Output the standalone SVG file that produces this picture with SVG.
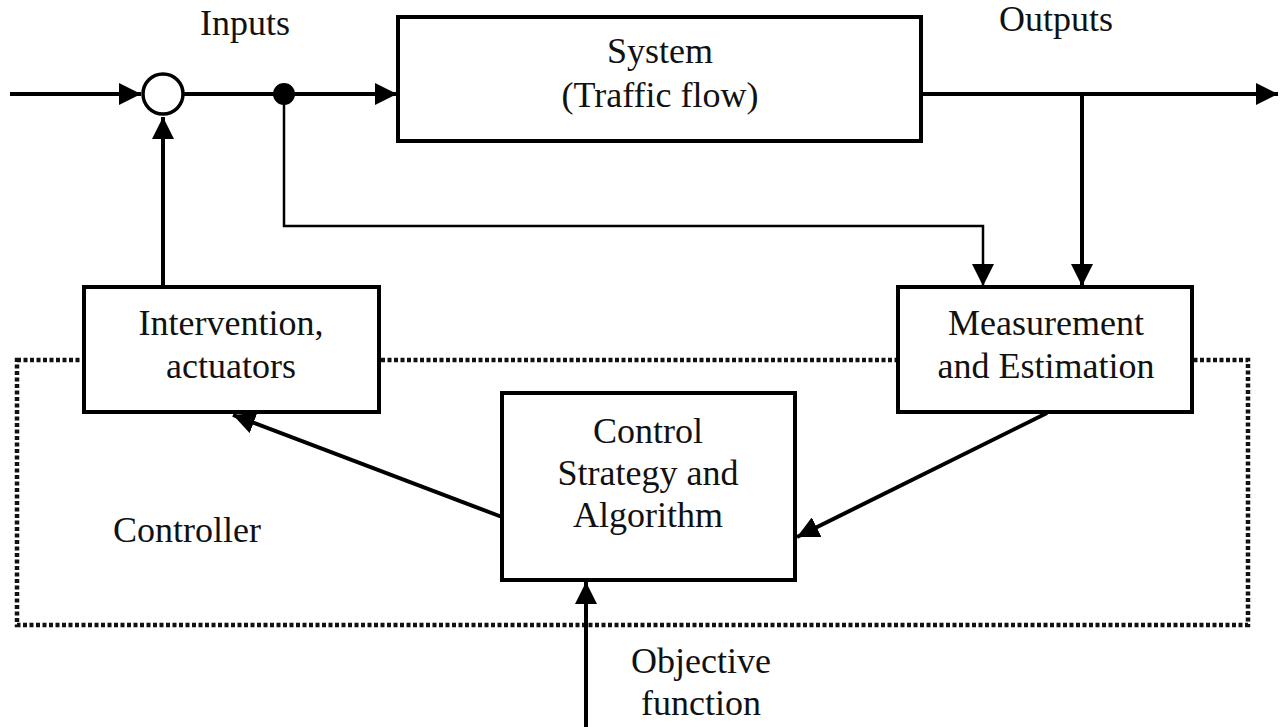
<svg xmlns="http://www.w3.org/2000/svg" width="1284" height="727" viewBox="0 0 1284 727">
  <style>
    .box { fill: #fff; stroke: #000; stroke-width: 4; }
    .wire { fill: none; stroke: #000; stroke-width: 4; }
    .thin { fill: none; stroke: #000; stroke-width: 2.5; }
    .dotted { fill: none; stroke: #111; stroke-width: 4.5; stroke-dasharray: 4 2.5; }
    .lbl { font-family: "Liberation Serif", "Times New Roman", serif; font-size: 36px; fill: #111; text-anchor: middle; }
  </style>
  <defs>
    <marker id="arrow" markerUnits="userSpaceOnUse" markerWidth="22" markerHeight="22" refX="22" refY="11" orient="auto">
      <path d="M0,0 L22,11 L0,22 z" fill="#000"/>
    </marker>
  </defs>

  <rect width="1284" height="727" fill="#fff"/>

  <!-- controller boundary -->
  <g id="controller">
    <rect class="dotted" x="17" y="360" width="1231" height="265"/>
    <text class="lbl" x="187" y="542">Controller</text>
  </g>

  <!-- connectors -->
  <g id="connectors">
    <path class="wire" d="M10,94 L141,94" marker-end="url(#arrow)"/>
    <path class="wire" d="M183,94 L284,94"/>
    <path class="wire" d="M284,94 L397,94" marker-end="url(#arrow)"/>
    <path class="wire" d="M922,94 L1278,94" marker-end="url(#arrow)"/>
    <path class="wire" d="M1082,94 L1082,286" marker-end="url(#arrow)"/>
    <path class="thin" d="M284,94 L284,226 L983,226 L983,286" marker-end="url(#arrow)"/>
    <path class="wire" d="M163,287 L163,117" marker-end="url(#arrow)"/>
    <path class="wire" d="M502,517 L233,415" marker-end="url(#arrow)"/>
    <path class="wire" d="M1047,413 L797,537" marker-end="url(#arrow)"/>
    <path class="wire" d="M586,727 L586,582" marker-end="url(#arrow)"/>
  </g>

  <g id="summing-junction">
    <circle cx="163" cy="94" r="20" fill="#fff" stroke="#000" stroke-width="3.5"/>
  </g>
  <g id="branch-point">
    <circle cx="284" cy="94" r="11" fill="#000"/>
  </g>

  <g id="system">
    <rect class="box" x="398" y="17" width="523" height="124"/>
    <text class="lbl" x="660" y="63">System</text>
    <text class="lbl" x="660" y="107">(Traffic flow)</text>
  </g>

  <g id="inputs-label">
    <text class="lbl" x="245" y="35">Inputs</text>
  </g>
  <g id="outputs-label">
    <text class="lbl" x="1056" y="31">Outputs</text>
  </g>

  <g id="actuators">
    <rect class="box" x="84" y="287" width="295" height="125"/>
    <text class="lbl" x="231" y="335">Intervention,</text>
    <text class="lbl" x="231" y="378">actuators</text>
  </g>

  <g id="measurement">
    <rect class="box" x="898" y="287" width="294" height="125"/>
    <text class="lbl" x="1046" y="335">Measurement</text>
    <text class="lbl" x="1046" y="378">and Estimation</text>
  </g>

  <g id="control-strategy">
    <rect class="box" x="502" y="393" width="293" height="187"/>
    <text class="lbl" x="648" y="443">Control</text>
    <text class="lbl" x="648" y="485">Strategy and</text>
    <text class="lbl" x="648" y="527">Algorithm</text>
  </g>

  <g id="objective-label">
    <text class="lbl" x="701" y="673">Objective</text>
    <text class="lbl" x="701" y="715">function</text>
  </g>
</svg>
